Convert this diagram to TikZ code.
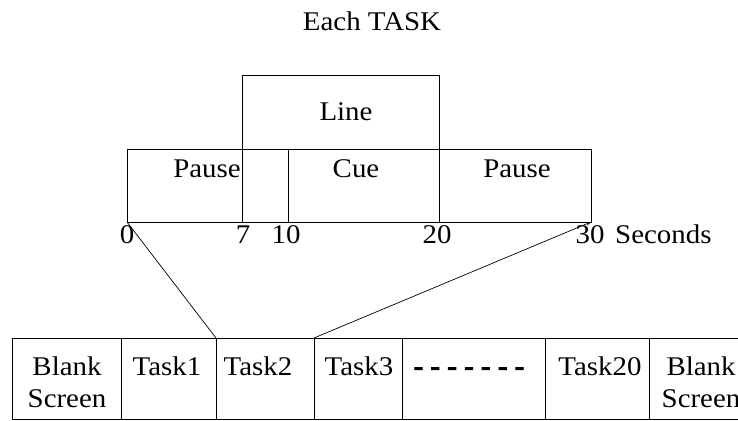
\documentclass[tikz,border=0pt]{standalone}
\usepackage{fontspec}
\setmainfont{Liberation Serif}[FakeStretch=1.07]
\usetikzlibrary{arrows.meta}
\tikzset{
  box/.style={draw, line width=1pt},
  cell/.style={draw, line width=1pt, anchor=north west, inner sep=0pt, outer sep=0pt, minimum height=81pt},
  lbl/.style={anchor=base, inner sep=0pt, font=\fontsize{27}{31}\selectfont},
  link/.style={line width=0.7pt},
}
\begin{document}
\begin{tikzpicture}[x=1pt, y=-1pt]
\useasboundingbox (0,0) rectangle (738,420);
\clip (0,0) rectangle (738,420);

% title
\node[lbl] (title) at (372,31) {Each TASK};

% timeline of one task
\draw[box] (242,75) rectangle (439,149);
\draw[box] (127,149) rectangle (591,222);
\draw[box] (242,149) -- (242,222);
\draw[box] (288,149) -- (288,222);
\draw[box] (439,149) -- (439,222);
\coordinate (t0) at (127,222);
\coordinate (t30) at (591,222);

\node[lbl] (line) at (346,120) {Line};
\node[lbl] (pause1) at (207,177) {Pause};
\node[lbl] (cue) at (356,177) {Cue};
\node[lbl] (pause2) at (517,177) {Pause};

% seconds axis
\node[lbl] (s0) at (127,243) {0};
\node[lbl] (s7) at (243,243) {7};
\node[lbl] (s10) at (286,243) {10};
\node[lbl] (s20) at (437,243) {20};
\node[lbl] (s30) at (590,243) {30};
\node[lbl, anchor=base west] (sec) at (615,243) {Seconds};

% sequence of tasks
\node[cell, minimum width=109pt] (c0) at (12,338) {};
\node[cell, minimum width=95pt] (c1) at (121,338) {};
\node[cell, minimum width=98pt] (c2) at (216,338) {};
\node[cell, minimum width=88pt] (c3) at (314,338) {};
\node[cell, minimum width=143pt] (c4) at (402,338) {};
\node[cell, minimum width=104pt] (c5) at (545,338) {};
\node[cell, minimum width=104pt] (c6) at (649,338) {};

\node[lbl] (b1) at (67,375) {Blank};
\node[lbl] (b1s) at (67,407) {Screen};
\node[lbl] (k1) at (167,375) {Task1};
\node[lbl] (k2) at (258,375) {Task2};
\node[lbl] (k3) at (359,375) {Task3};
\node[lbl] (dots) at (469,375) {\addfontfeature{FakeBold=3}- - - - - - -};
\node[lbl] (k20) at (600,375) {Task20};
\node[lbl] (b2) at (701,375) {Blank};
\node[lbl] (b2s) at (701,407) {Screen};

% zoom lines from the task sequence to the timeline
\draw[link] (t0) -- (c2.north west);
\draw[link, -{Stealth[length=5pt,width=4pt]}] (c3.north west) -- (t30);
\end{tikzpicture}
\end{document}
